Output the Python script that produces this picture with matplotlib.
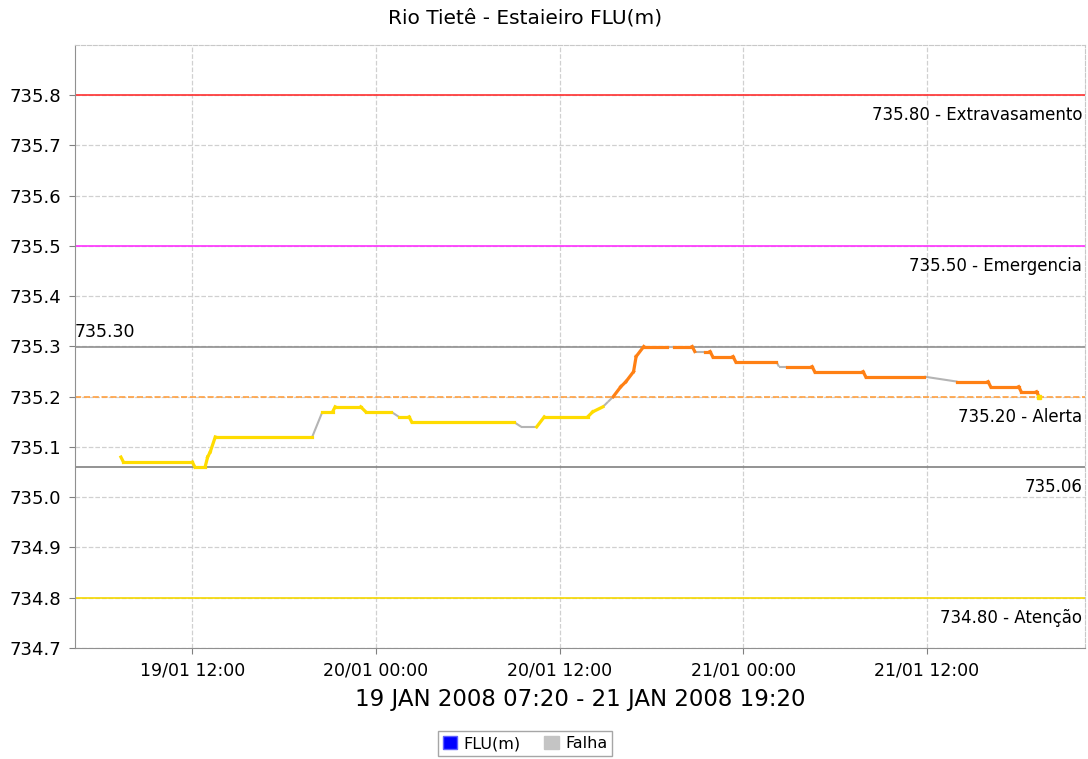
import numpy as np
import matplotlib
matplotlib.use('Agg')
import matplotlib.pyplot as plt
import matplotlib.dates as mdates
from matplotlib.patches import Patch

# readings: time, level (m)
times = ['2008-01-19 07:20', '2008-01-19 07:30', '2008-01-19 12:00', '2008-01-19 12:10',
         '2008-01-19 12:50', '2008-01-19 13:00', '2008-01-19 13:10', '2008-01-19 13:30',
         '2008-01-19 19:50', '2008-01-19 20:30', '2008-01-19 21:10', '2008-01-19 21:20',
         '2008-01-19 23:00', '2008-01-19 23:20', '2008-01-20 01:00', '2008-01-20 01:30',
         '2008-01-20 02:10', '2008-01-20 02:20', '2008-01-20 09:00', '2008-01-20 09:30',
         '2008-01-20 10:30', '2008-01-20 11:00', '2008-01-20 13:50', '2008-01-20 14:10',
         '2008-01-20 14:50', '2008-01-20 15:10', '2008-01-20 15:30', '2008-01-20 16:00',
         '2008-01-20 16:20', '2008-01-20 16:50', '2008-01-20 17:00', '2008-01-20 17:30',
         '2008-01-20 19:00', '2008-01-20 19:30', '2008-01-20 20:40', '2008-01-20 20:50',
         '2008-01-20 21:30', '2008-01-20 21:50', '2008-01-20 22:00', '2008-01-20 23:20',
         '2008-01-20 23:30', '2008-01-21 02:10', '2008-01-21 02:20', '2008-01-21 02:50',
         '2008-01-21 04:30', '2008-01-21 04:40', '2008-01-21 07:50', '2008-01-21 08:00',
         '2008-01-21 11:50', '2008-01-21 14:00', '2008-01-21 16:00', '2008-01-21 16:10',
         '2008-01-21 18:00', '2008-01-21 18:10', '2008-01-21 19:10', '2008-01-21 19:20']
levels = [735.08, 735.07, 735.07, 735.06,
          735.06, 735.08, 735.09, 735.12,
          735.12, 735.17, 735.17, 735.18,
          735.18, 735.17, 735.17, 735.16,
          735.16, 735.15, 735.15, 735.14,
          735.14, 735.16, 735.16, 735.17,
          735.18, 735.19, 735.20, 735.22,
          735.23, 735.25, 735.28, 735.30,
          735.30, 735.30, 735.30, 735.29,
          735.29, 735.29, 735.28, 735.28,
          735.27, 735.27, 735.26, 735.26,
          735.26, 735.25, 735.25, 735.24,
          735.24, 735.23, 735.23, 735.22,
          735.22, 735.21, 735.21, 735.20]
# intervals without data (Falha)
gaps = [('2008-01-19 19:50', '2008-01-19 20:30'),
        ('2008-01-20 01:00', '2008-01-20 01:30'),
        ('2008-01-20 09:00', '2008-01-20 10:30'),
        ('2008-01-20 14:50', '2008-01-20 15:30'),
        ('2008-01-20 19:00', '2008-01-20 19:30'),
        ('2008-01-20 20:50', '2008-01-20 21:30'),
        ('2008-01-21 02:10', '2008-01-21 02:50'),
        ('2008-01-21 11:50', '2008-01-21 14:00')]

# reference levels
ref_values = [735.80, 735.50, 735.30, 735.20, 735.06, 734.80]
ref_labels = ['735.80 - Extravasamento', '735.50 - Emergencia', '735.30',
              '735.20 - Alerta', '735.06', '734.80 - Atenção']
ref_colors = ['#ff3030', '#ff30ff', '#909090', '#ffa040', '#808080', '#f5d800']
ref_styles = ['-', '-', '-', '--', '-', '-']

t = mdates.date2num(np.array(times, dtype='datetime64[m]'))
v = np.array(levels)
gap_num = [(mdates.date2num(np.datetime64(a)), mdates.date2num(np.datetime64(b))) for a, b in gaps]

fig = plt.figure(figsize=(10.88, 7.59), dpi=100)
ax = fig.add_axes([75/1088, 1-648/759, 1010/1088, 603/759])

for yv, lab, c, ls in zip(ref_values, ref_labels, ref_colors, ref_styles):
    ax.axhline(yv, color=c, lw=1.2, ls=ls, zorder=2)
    if lab == '735.30':
        ax.annotate(lab, (0, yv), xycoords=('axes fraction', 'data'), xytext=(0, 4),
                    textcoords='offset points', ha='left', va='bottom', fontsize=12.5)
    else:
        ax.annotate(lab, (1, yv), xycoords=('axes fraction', 'data'), xytext=(-2, -8),
                    textcoords='offset points', ha='right', va='top', fontsize=12)

for i in range(len(t) - 1):
    in_gap = any(a <= t[i] and t[i+1] <= b for a, b in gap_num)
    if in_gap:
        ax.plot(t[i:i+2], v[i:i+2], color='#b4b4b4', lw=1.5, zorder=3, solid_capstyle='butt')
    else:
        col = '#ff8014' if max(v[i], v[i+1]) > 735.2 else '#ffdc00'
        ax.plot(t[i:i+2], v[i:i+2], color=col, lw=2.3, zorder=4, solid_capstyle='projecting')
ax.plot(t[-1], v[-1], 's', color='#ffdc00', ms=3, zorder=5)

span = t[-1] - t[0]
ax.set_xlim(t[0] - 0.05 * span, t[-1] + 0.05 * span)
ax.set_ylim(734.7, 735.9)
ax.set_yticks(np.arange(734.7, 735.85, 0.1))
ax.yaxis.set_major_formatter(plt.FormatStrFormatter('%.1f'))
ax.xaxis.set_major_locator(mdates.HourLocator(byhour=[0, 12]))
ax.xaxis.set_major_formatter(mdates.DateFormatter('%d/%m %H:%M'))
ax.tick_params(axis='both', labelsize=13, length=4, color='#808080', pad=6)
ax.tick_params(axis='x', labelsize=12.5)
ax.grid(True, color='#d0d0d0', ls='--', lw=0.9)
ax.set_axisbelow(True)
for s in ['left', 'bottom']:
    ax.spines[s].set_color('#909090')
for s in ['top', 'right']:
    ax.spines[s].set_color('#c8c8c8')
    ax.spines[s].set_linestyle('--')

ax.set_xlabel('19 JAN 2008 07:20 - 21 JAN 2008 19:20', fontsize=16.5, labelpad=6)
fig.text(525/1088, 1-18/759, 'Rio Tietê - Estaieiro FLU(m)', ha='center', va='center', fontsize=14.5)

handles = [Patch(facecolor='#0000ff', edgecolor='#6060ff', label='FLU(m)'),
           Patch(facecolor='#c4c4c4', edgecolor='#c4c4c4', label='Falha')]
fig.legend(handles=handles, loc='lower center', bbox_to_anchor=(525/1088, 0.0), ncol=2,
           fontsize=11.5, frameon=True, fancybox=False, edgecolor='#909090',
           handlelength=0.9, handleheight=0.9, handletextpad=0.4, columnspacing=1.5,
           borderpad=0.3, borderaxespad=0.2)

fig.savefig('out.png', dpi=100)
